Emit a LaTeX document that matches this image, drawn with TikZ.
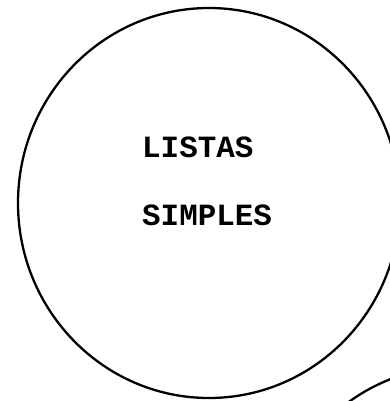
\documentclass[tikz,border=0pt]{standalone}
\usepackage{fontspec}
\setmonofont{Liberation Mono}
\usetikzlibrary{shapes.geometric}
\begin{document}
\begin{tikzpicture}[x=1bp,y=-1bp,
  ring/.style={draw=black,line width=2.3bp},
  label/.style={font=\ttfamily\bfseries\fontsize{31}{36}\selectfont,anchor=base west,inner sep=0pt,text=black}]
\useasboundingbox (0,0) rectangle (390,401);
\clip (0,0) rectangle (390,401);
\fill[white] (0,0) rectangle (390,401);
\node[ring,ellipse,minimum width=382bp,minimum height=390bp,inner sep=0pt] (main) at (209,203) {};
\node[ring,circle,minimum size=380bp,inner sep=0pt] (next) at (460,556) {};
\node[label] (l1) at (142,157) {LISTAS};
\node[label] (l2) at (142,225) {SIMPLES};
\end{tikzpicture}
\end{document}
